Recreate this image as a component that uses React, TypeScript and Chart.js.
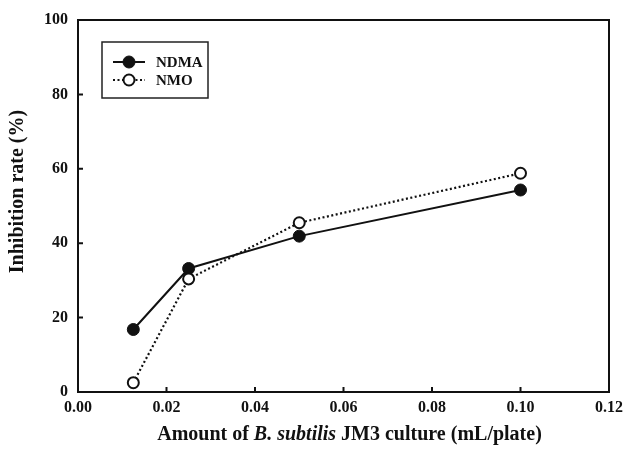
import React, { useEffect, useRef } from 'react';
import { Chart, registerables } from 'chart.js';
Chart.register(...registerables);

const xValues = [0.0125, 0.025, 0.05, 0.1];
const ndmaValues = [16.8, 33.2, 41.9, 54.3];
const nmoValues = [2.5, 30.4, 45.5, 58.8];
const xTickValues = [0, 0.02, 0.04, 0.06, 0.08, 0.1, 0.12];
const yTickValues = [0, 20, 40, 60, 80, 100];
const seriesNames = ['NDMA', 'NMO'];
const yTitle = 'Inhibition rate (%)';
const xTitleParts: [string, boolean][] = [
  ['Amount of ', false],
  ['B. subtilis', true],
  [' JM3 culture (mL/plate)', false],
];

const FAMILY = '"Liberation Serif", "Times New Roman", serif';
const INK = '#111';

const decorPlugin = {
  id: 'decor',
  afterDraw(chart: any) {
    const ctx = chart.ctx as CanvasRenderingContext2D;
    const { left, right, top, bottom } = chart.chartArea;
    const xs = chart.scales.x;
    const ys = chart.scales.y;
    ctx.save();
    ctx.strokeStyle = INK;
    ctx.lineWidth = 2;
    ctx.strokeRect(left, top, right - left, bottom - top);
    ctx.beginPath();
    xTickValues.forEach((v) => {
      const px = xs.getPixelForValue(v);
      ctx.moveTo(px, bottom);
      ctx.lineTo(px, bottom - 5);
    });
    yTickValues.forEach((v) => {
      const py = ys.getPixelForValue(v);
      ctx.moveTo(left, py);
      ctx.lineTo(left + 5, py);
    });
    ctx.stroke();

    // legend
    const bx = 102, by = 42, bw = 106, bh = 56;
    ctx.lineWidth = 1.5;
    ctx.strokeStyle = '#222';
    ctx.strokeRect(bx, by, bw, bh);
    const rows = [62, 80];
    chart.data.datasets.forEach((ds: any, i: number) => {
      const y = rows[i];
      ctx.save();
      ctx.strokeStyle = INK;
      ctx.lineWidth = 2;
      ctx.setLineDash(ds.borderDash || []);
      ctx.beginPath();
      ctx.moveTo(113, y);
      ctx.lineTo(145, y);
      ctx.stroke();
      ctx.setLineDash([]);
      ctx.beginPath();
      ctx.arc(129, y, ds.pointRadius, 0, Math.PI * 2);
      ctx.fillStyle = ds.pointBackgroundColor;
      ctx.fill();
      ctx.lineWidth = ds.pointBorderWidth;
      ctx.stroke();
      ctx.fillStyle = INK;
      ctx.font = `bold 15px ${FAMILY}`;
      ctx.textBaseline = 'middle';
      ctx.textAlign = 'left';
      ctx.fillText(ds.label, 156, y + 1);
      ctx.restore();
    });

    // y title
    ctx.save();
    ctx.fillStyle = INK;
    ctx.font = `bold 20px ${FAMILY}`;
    ctx.translate(18, 191.5);
    ctx.rotate(-Math.PI / 2);
    ctx.textAlign = 'center';
    ctx.textBaseline = 'middle';
    ctx.fillText(yTitle, 0, 0);
    ctx.restore();

    // x title
    ctx.save();
    ctx.fillStyle = INK;
    ctx.textBaseline = 'alphabetic';
    ctx.textAlign = 'left';
    const fonts = xTitleParts.map(([, it]) => `${it ? 'italic ' : ''}bold 20px ${FAMILY}`);
    let total = 0;
    const widths = xTitleParts.map(([t], i) => {
      ctx.font = fonts[i];
      const w = ctx.measureText(t).width;
      total += w;
      return w;
    });
    let cx = 349.5 - total / 2;
    xTitleParts.forEach(([t], i) => {
      ctx.font = fonts[i];
      ctx.fillText(t, cx, 440);
      cx += widths[i];
    });
    ctx.restore();
    ctx.restore();
  },
};

export default function App() {
  const ref = useRef<HTMLCanvasElement>(null);
  useEffect(() => {
    document.body.style.margin = '0';
    const chart = new Chart(ref.current!, {
      type: 'line',
      data: {
        datasets: [
          {
            label: seriesNames[0],
            data: xValues.map((x, i) => ({ x, y: ndmaValues[i] })),
            borderColor: INK,
            borderWidth: 2,
            pointRadius: 6,
            pointBackgroundColor: INK,
            pointBorderColor: INK,
            pointBorderWidth: 1,
            order: 1,
          } as any,
          {
            label: seriesNames[1],
            data: xValues.map((x, i) => ({ x, y: nmoValues[i] })),
            borderColor: INK,
            borderWidth: 2.2,
            borderDash: [2, 2.5],
            pointRadius: 5.5,
            pointBackgroundColor: '#fff',
            pointBorderColor: INK,
            pointBorderWidth: 2,
            order: 0,
          } as any,
        ],
      },
      options: {
        responsive: false,
        animation: false,
        devicePixelRatio: 1,
        layout: { padding: { top: 20, right: 16, left: 0, bottom: 0 } },
        plugins: { legend: { display: false }, tooltip: { enabled: false } },
        scales: {
          x: {
            type: 'linear',
            min: 0,
            max: 0.12,
            grid: { display: false, drawTicks: false },
            border: { display: false },
            afterBuildTicks: (s: any) => {
              s.ticks = xTickValues.map((v) => ({ value: v }));
            },
            afterFit: (s: any) => {
              s.height = 65;
              s.paddingRight = 0;
              s.paddingLeft = 0;
            },
            ticks: {
              padding: 6,
              color: INK,
              font: { family: FAMILY, size: 16, weight: 'bold' },
              callback: (v: any) => Number(v).toFixed(2),
              maxRotation: 0,
            },
          },
          y: {
            type: 'linear',
            min: 0,
            max: 100,
            grid: { display: false, drawTicks: false },
            border: { display: false },
            afterBuildTicks: (s: any) => {
              s.ticks = yTickValues.map((v) => ({ value: v }));
            },
            afterFit: (s: any) => {
              s.width = 78;
              s.paddingTop = 0;
              s.paddingBottom = 0;
            },
            ticks: {
              padding: 10,
              color: INK,
              font: { family: FAMILY, size: 16, weight: 'bold' },
              callback: (v: any) => String(v),
            },
          },
        },
      },
      plugins: [decorPlugin],
    });
    return () => chart.destroy();
  }, []);
  return <canvas ref={ref} width={625} height={457} style={{ display: 'block' }} />;
}
